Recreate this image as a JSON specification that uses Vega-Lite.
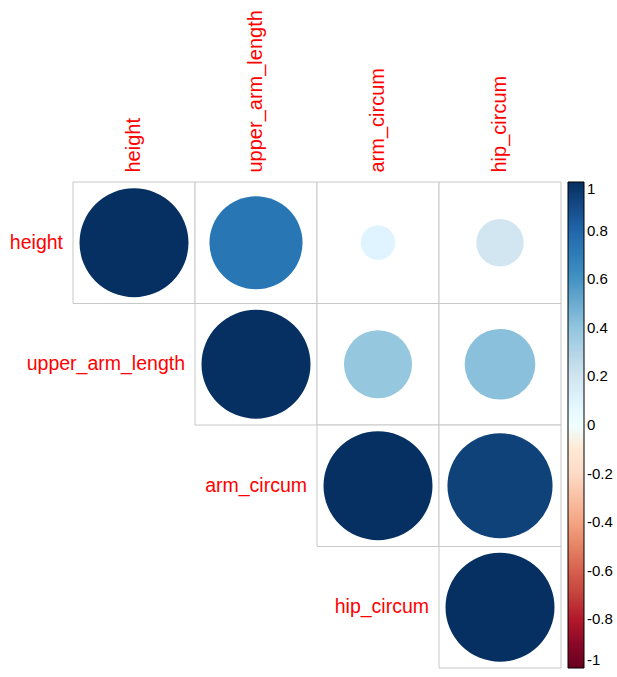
{
  "$schema": "https://vega.github.io/schema/vega-lite/v6.json",
  "autosize": {"type": "none"},
  "padding": {"left": 73, "top": 182, "right": 56, "bottom": 9},
  "width": 488,
  "height": 486,
  "background": "white",
  "config": {"view": {"stroke": null}, "font": "Liberation Sans"},
  "data": {
    "values": [
      {"row": "height", "col": "height", "r": 1},
      {"row": "height", "col": "upper_arm_length", "r": 0.73},
      {"row": "height", "col": "arm_circum", "r": 0.1},
      {"row": "height", "col": "hip_circum", "r": 0.19},
      {"row": "upper_arm_length", "col": "upper_arm_length", "r": 1},
      {"row": "upper_arm_length", "col": "arm_circum", "r": 0.39},
      {"row": "upper_arm_length", "col": "hip_circum", "r": 0.42},
      {"row": "arm_circum", "col": "arm_circum", "r": 1},
      {"row": "arm_circum", "col": "hip_circum", "r": 0.93},
      {"row": "hip_circum", "col": "hip_circum", "r": 1}
    ]
  },
  "encoding": {
    "x": {
      "field": "col", "type": "nominal",
      "sort": ["height", "upper_arm_length", "arm_circum", "hip_circum"],
      "scale": {"domain": ["height", "upper_arm_length", "arm_circum", "hip_circum"], "paddingInner": 0, "paddingOuter": 0},
      "axis": {"orient": "top", "title": null, "labelAngle": -90, "labelColor": "#FF0000", "labelFontSize": 20, "labelPadding": 10, "ticks": false, "domain": false, "labelLimit": 400, "labelFont": "Liberation Sans"}
    },
    "y": {
      "field": "row", "type": "nominal",
      "sort": ["height", "upper_arm_length", "arm_circum", "hip_circum"],
      "scale": {"domain": ["height", "upper_arm_length", "arm_circum", "hip_circum"], "paddingInner": 0, "paddingOuter": 0},
      "axis": null
    }
  },
  "layer": [
    {
      "mark": {"type": "rect", "fill": "white", "stroke": "#C8C8C8", "strokeWidth": 1}
    },
    {
      "mark": {"type": "point", "shape": "circle", "filled": true, "opacity": 1, "strokeWidth": 0},
      "encoding": {
        "size": {"field": "r", "type": "quantitative", "scale": {"type": "linear", "domain": [0, 1], "range": [0, 11881], "zero": true}, "legend": null},
        "color": {
          "field": "r", "type": "quantitative",
          "scale": {
            "domain": [-1, -0.8, -0.6, -0.4, -0.2, 0, 0.2, 0.4, 0.6, 0.8, 1],
            "range": ["#67001F", "#B2182B", "#D6604D", "#F4A582", "#FDDBC7", "#FFFFFF", "#D1E5F0", "#92C5DE", "#4393C3", "#2166AC", "#053061"]
          },
          "legend": {
            "orient": "none", "legendX": 495, "legendY": 0,
            "direction": "vertical", "title": null,
            "gradientLength": 486, "gradientThickness": 16,
            "gradientStrokeColor": "#000000", "gradientStrokeWidth": 1,
            "values": [1, 0.8, 0.6, 0.4, 0.2, 0, -0.2, -0.4, -0.6, -0.8, -1],
            "labelExpr": "toString(datum.value)",
            "labelFontSize": 15, "labelColor": "#000000", "labelOffset": 3,
            "labelFont": "Liberation Sans", "labelOverlap": false
          }
        }
      }
    },
    {
      "transform": [{"filter": "datum.row == datum.col"}],
      "mark": {"type": "text", "align": "right", "baseline": "middle", "dx": -10, "fontSize": 19.5, "color": "#FF0000", "font": "Liberation Sans"},
      "encoding": {
        "x": {"field": "col", "type": "nominal", "bandPosition": 0, "sort": ["height", "upper_arm_length", "arm_circum", "hip_circum"]},
        "text": {"field": "row"}
      }
    }
  ]
}
